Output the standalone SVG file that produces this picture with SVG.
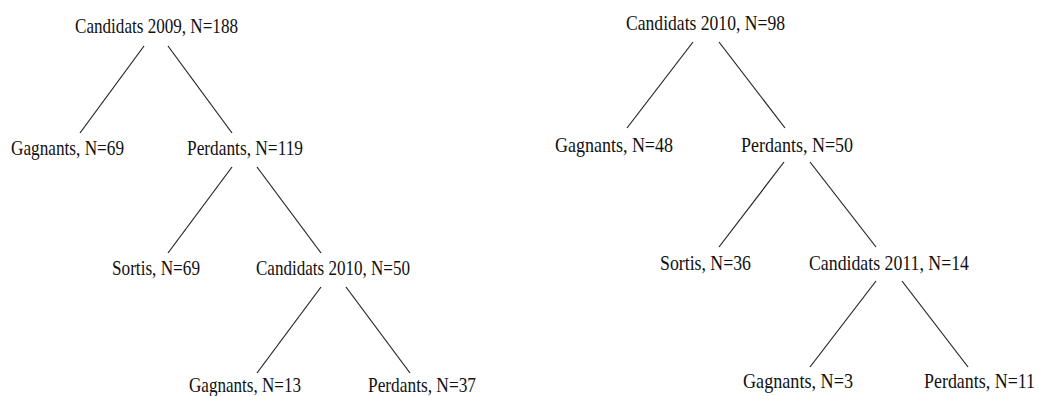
<svg xmlns="http://www.w3.org/2000/svg" width="1039" height="396" viewBox="0 0 1039 396">
<style>
text{font-family:"Liberation Serif","Times New Roman",serif;font-size:20.5px;fill:#111;}
.c line{stroke:#222;stroke-width:1.2;}
</style>
<rect width="1039" height="396" fill="#fff"/>
<g class="c" id="connectors">
<line x1="144" y1="46" x2="80" y2="133"/>
<line x1="168" y1="46" x2="232" y2="133"/>
<line x1="232" y1="167" x2="168" y2="253"/>
<line x1="257" y1="167" x2="321" y2="253"/>
<line x1="321" y1="287" x2="257" y2="373"/>
<line x1="346" y1="287" x2="410" y2="373"/>
<line x1="693" y1="42" x2="627" y2="128"/>
<line x1="719" y1="42" x2="785" y2="128"/>
<line x1="784" y1="162" x2="719" y2="247"/>
<line x1="810" y1="162" x2="876" y2="247"/>
<line x1="876" y1="281" x2="810" y2="367"/>
<line x1="902" y1="281" x2="968" y2="367"/>
</g>
<g id="n1"><text transform="translate(75,33) scale(0.8,1)" textLength="203.75" lengthAdjust="spacingAndGlyphs">Candidats 2009, N=188</text></g>
<g id="n2"><text transform="translate(11,155) scale(0.8,1)" textLength="141.25" lengthAdjust="spacingAndGlyphs">Gagnants, N=69</text></g>
<g id="n3"><text transform="translate(187,155) scale(0.8,1)" textLength="145" lengthAdjust="spacingAndGlyphs">Perdants, N=119</text></g>
<g id="n4"><text transform="translate(112,275) scale(0.8,1)" textLength="110" lengthAdjust="spacingAndGlyphs">Sortis, N=69</text></g>
<g id="n5"><text transform="translate(256,275) scale(0.8,1)" textLength="192.5" lengthAdjust="spacingAndGlyphs">Candidats 2010, N=50</text></g>
<g id="n6"><text transform="translate(189,392) scale(0.8,1)" textLength="140" lengthAdjust="spacingAndGlyphs">Gagnants, N=13</text></g>
<g id="n7"><text transform="translate(368,392) scale(0.8,1)" textLength="135" lengthAdjust="spacingAndGlyphs">Perdants, N=37</text></g>
<g id="m1"><text transform="translate(626,30) scale(0.8,1)" textLength="198.75" lengthAdjust="spacingAndGlyphs">Candidats 2010, N=98</text></g>
<g id="m2"><text transform="translate(555,152) scale(0.8,1)" textLength="147.5" lengthAdjust="spacingAndGlyphs">Gagnants, N=48</text></g>
<g id="m3"><text transform="translate(741,152) scale(0.8,1)" textLength="140" lengthAdjust="spacingAndGlyphs">Perdants, N=50</text></g>
<g id="m4"><text transform="translate(660,270) scale(0.8,1)" textLength="113.75" lengthAdjust="spacingAndGlyphs">Sortis, N=36</text></g>
<g id="m5"><text transform="translate(809,270) scale(0.8,1)" textLength="200" lengthAdjust="spacingAndGlyphs">Candidats 2011, N=14</text></g>
<g id="m6"><text transform="translate(743,388) scale(0.8,1)" textLength="137.5" lengthAdjust="spacingAndGlyphs">Gagnants, N=3</text></g>
<g id="m7"><text transform="translate(924,388) scale(0.8,1)" textLength="138.75" lengthAdjust="spacingAndGlyphs">Perdants, N=11</text></g>
</svg>
